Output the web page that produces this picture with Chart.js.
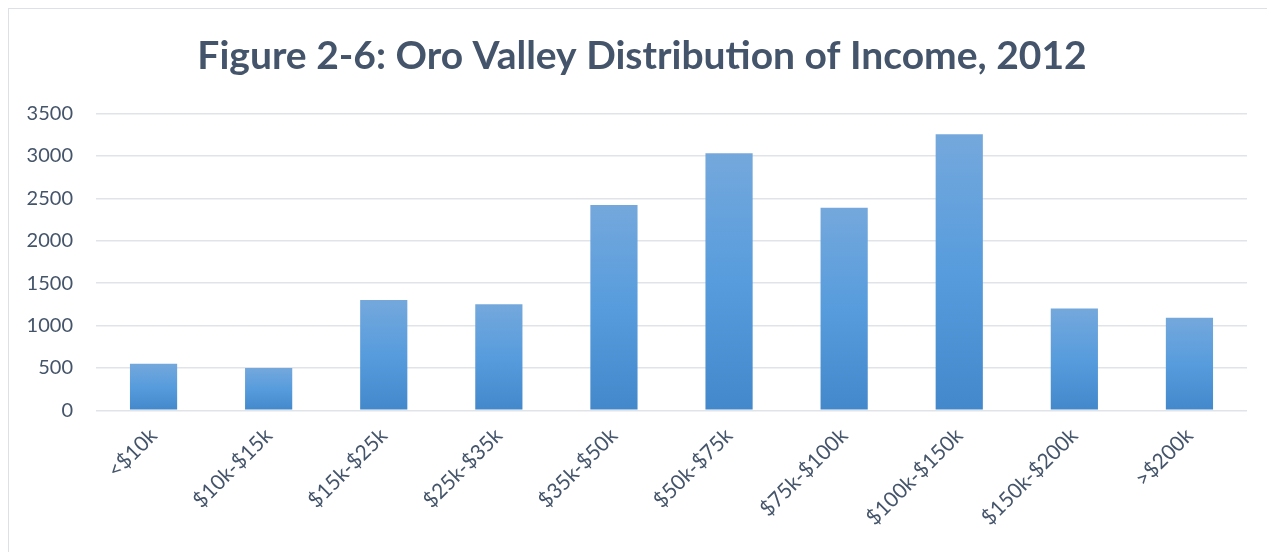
<!DOCTYPE html>
<html lang="en">
<head>
  <meta charset="UTF-8" />
  <title>Oro Valley Distribution of Income, 2012</title>
  <style>
    *{box-sizing:border-box;margin:0;padding:0;}
    html,body{width:1267px;height:552px;overflow:hidden;background:#fff;}
    #frame{position:absolute;left:8px;top:8px;width:1300px;height:600px;border:1px solid #dde1e6;}
    #chart{display:block;}
  </style>
</head>
<body>
  <div id="frame">
    <canvas id="chart" width="1266" height="560"></canvas>
  </div>

  <script src="https://cdn.jsdelivr.net/npm/chart.js@4.4.1/dist/chart.umd.min.js"></script>
  <script>
  /* -------- data -------- */
  const incomeBrackets=['<$10k','$10k-$15k','$15k-$25k','$25k-$35k','$35k-$50k','$50k-$75k','$75k-$100k','$100k-$150k','$150k-$200k','>$200k'];
  const households=[550,500,1300,1250,2420,3030,2390,3255,1200,1090];
  const yTicks=[0,500,1000,1500,2000,2500,3000,3500];

  const textColor='#44546a';
  const gridColor='#e0e3e8';

  /* vertical gradient per bar: lighter top, darker bottom */
  function barFill(ctx){
    const chart=ctx.chart;
    const y=chart.scales.y;
    if(ctx.type!=='data'||!y||!chart.chartArea)return '#5b9bd5';
    const top=y.getPixelForValue(ctx.raw);
    const base=y.getPixelForValue(0);
    const g=chart.ctx.createLinearGradient(0,top,0,base);
    g.addColorStop(0,'#74a8dc');
    g.addColorStop(0.5,'#579cdd');
    g.addColorStop(1,'#4388ca');
    return g;
  }

  new Chart(document.getElementById('chart'),{
    type:'bar',
    data:{
      labels:incomeBrackets,
      datasets:[{data:households,backgroundColor:barFill,borderWidth:0,categoryPercentage:1,barPercentage:0.41}]
    },
    options:{
      responsive:false,
      animation:false,
      layout:{padding:0},
      plugins:{
        legend:{display:false},
        tooltip:{enabled:false},
        title:{
          display:true,
          text:'Figure 2-6: Oro Valley Distribution of Income, 2012',
          color:textColor,
          font:{family:'Lato',size:39,weight:'bold'},
          padding:{top:24,bottom:33.7}
        }
      },
      scales:{
        x:{
          grid:{display:false,drawTicks:false},
          border:{display:false},
          ticks:{color:textColor,font:{family:'Lato',size:21},minRotation:45,maxRotation:45,autoSkip:false,padding:13},
          afterFit:s=>{s.height=158.7;}
        },
        y:{
          min:0,max:3500,
          grid:{color:gridColor,lineWidth:1.5,drawTicks:false},
          border:{display:false},
          ticks:{color:textColor,font:{family:'Lato',size:20},padding:23,callback:v=>String(v)},
          afterBuildTicks:s=>{s.ticks=yTicks.map(v=>({value:v}));},
          afterFit:s=>{s.width=87;}
        },
        // empty right-hand gutter so the plot ends short of the frame edge
        gutter:{
          type:'linear',position:'right',display:true,
          grid:{drawOnChartArea:false,drawTicks:false},
          border:{display:false},
          ticks:{display:false},
          afterFit:s=>{s.width=28;}
        }
      }
    }
  });
  </script>
</body>
</html>
